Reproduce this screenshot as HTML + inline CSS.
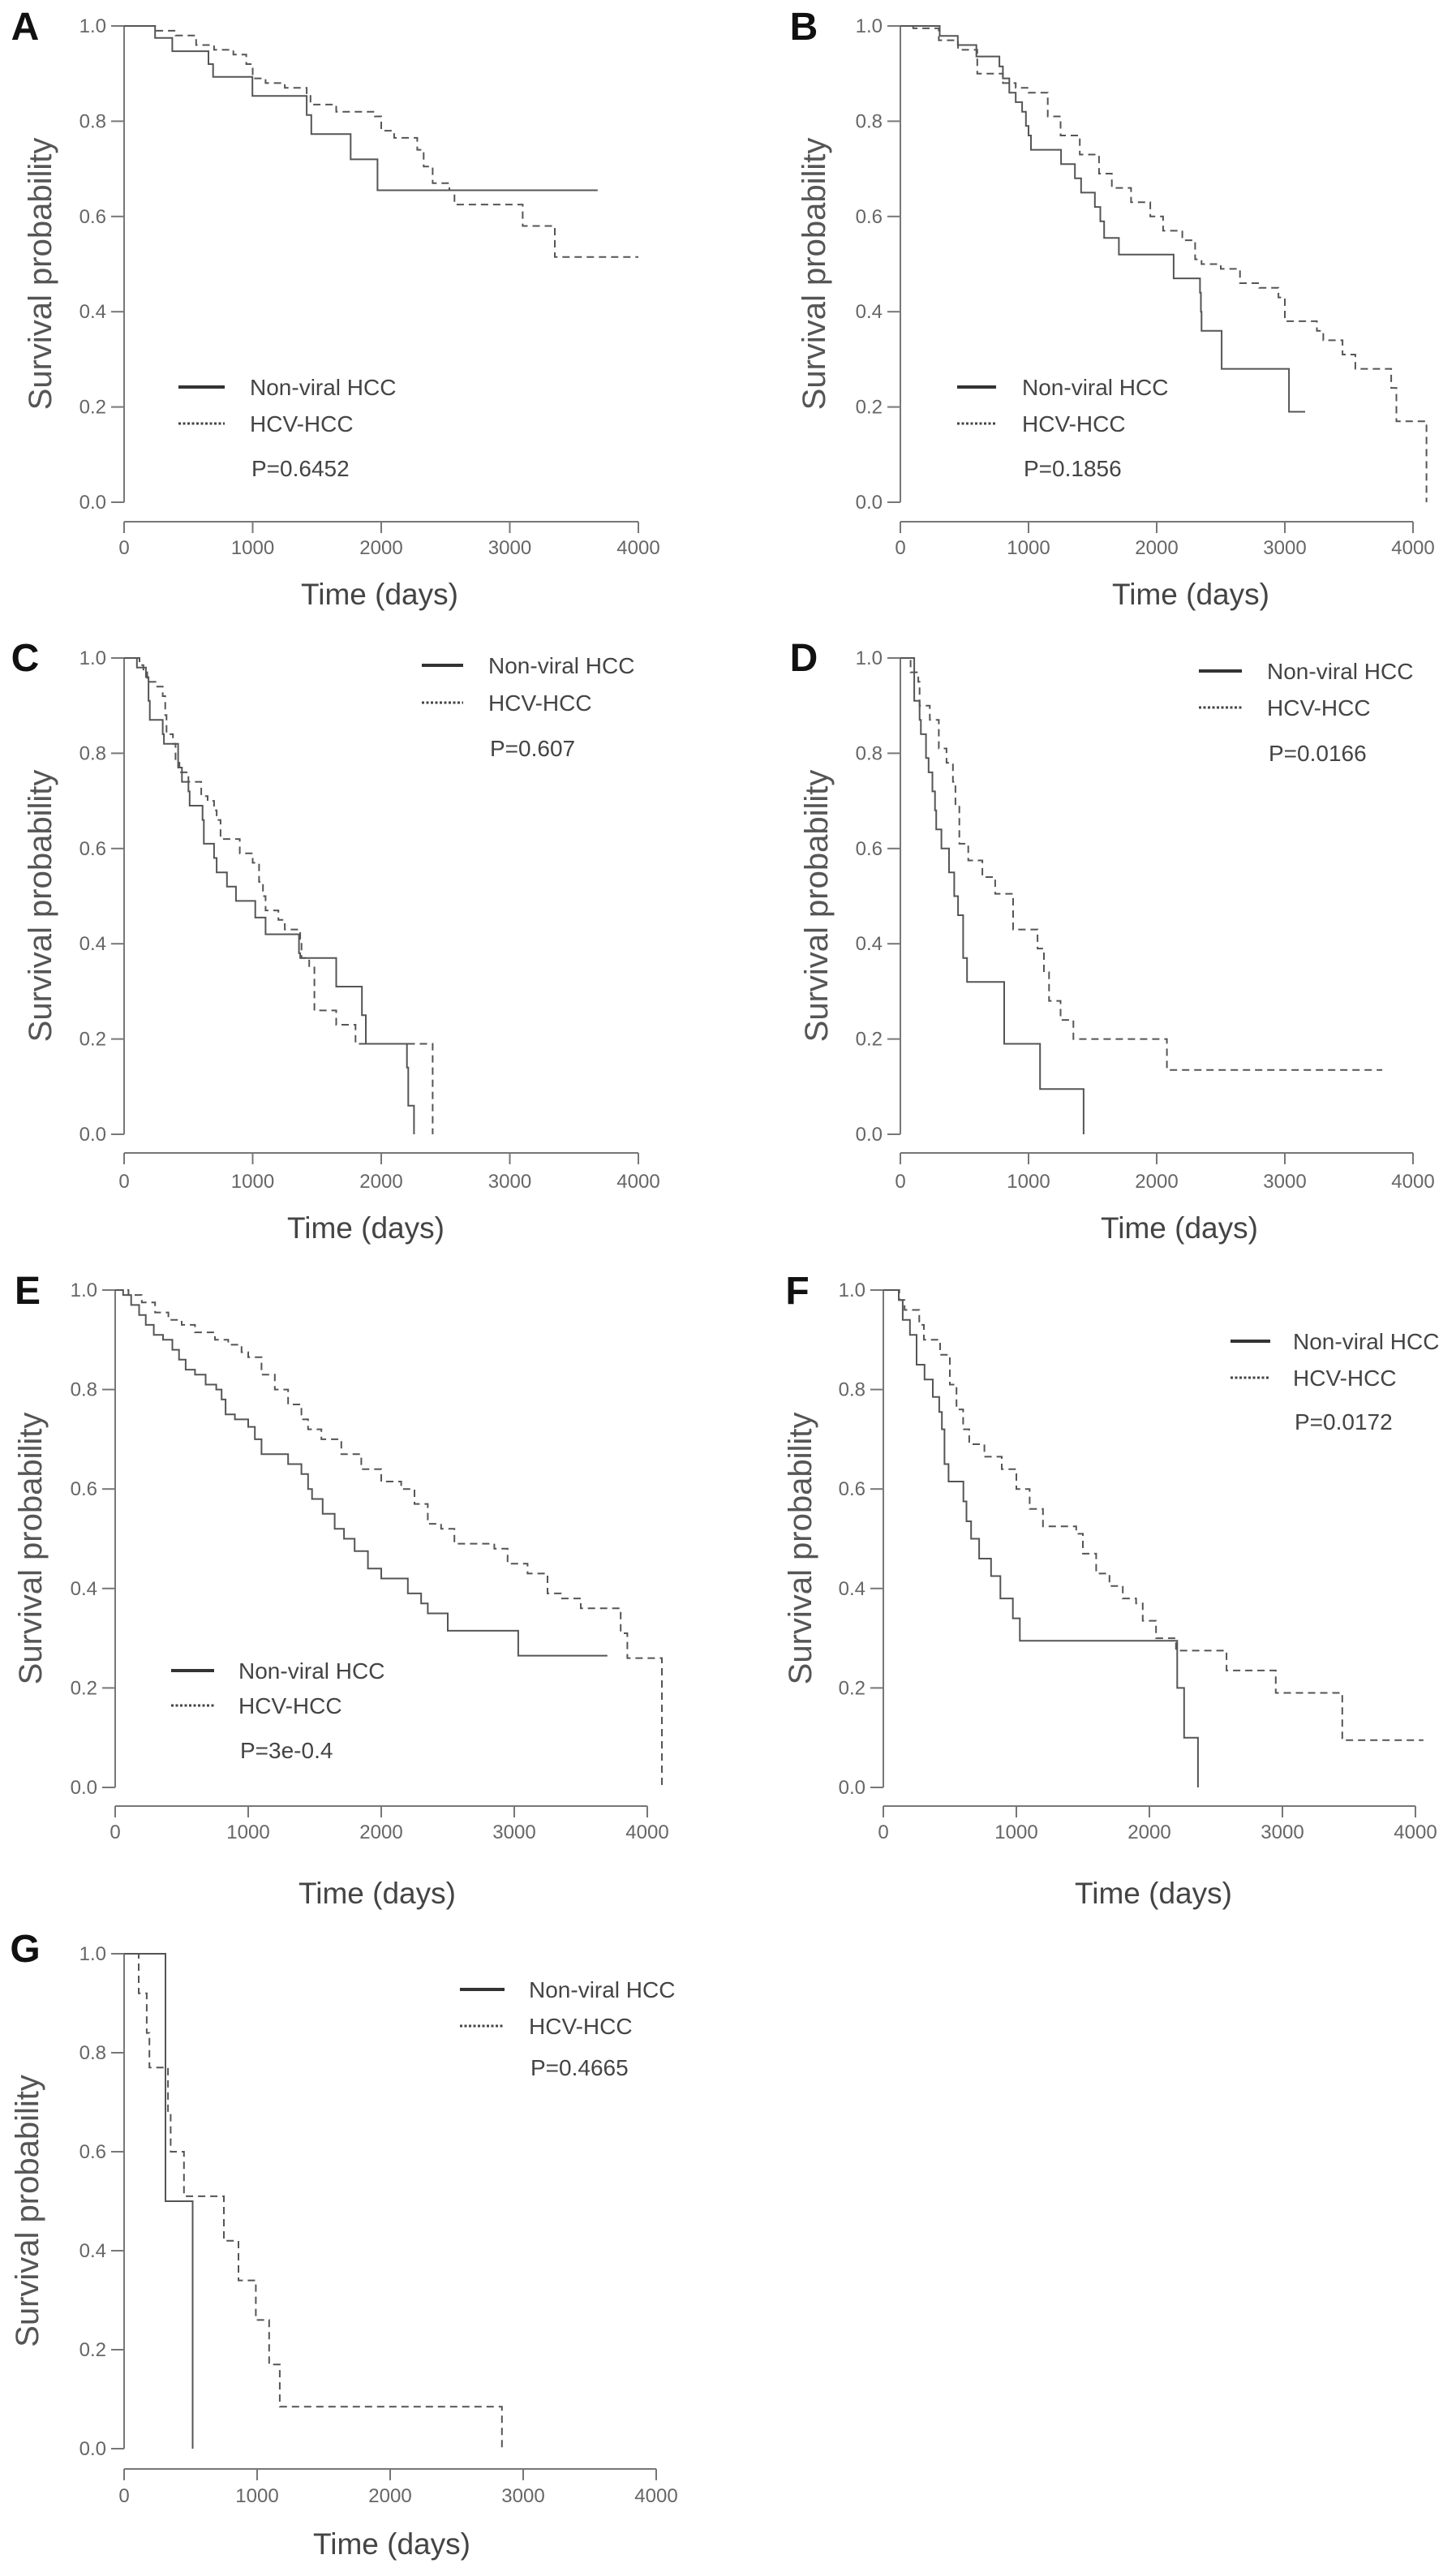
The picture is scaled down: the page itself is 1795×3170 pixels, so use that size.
<!DOCTYPE html>
<html><head><meta charset="utf-8"><style>
html,body{margin:0;padding:0;background:#fff;}
svg{display:block;font-family:"Liberation Sans",Arial,sans-serif;}
</style></head><body>
<svg id="fig" width="1795" height="3170" viewBox="0 0 1795 3170" xmlns="http://www.w3.org/2000/svg"></svg>
<script>
// ---- data (time in days, survival probability) ----
const xTicks=[0,1000,2000,3000,4000];
const yTicks=[0,0.2,0.4,0.6,0.8,1.0];
const yTickLabels=["0.0","0.2","0.4","0.6","0.8","1.0"];
const pValues=["P=0.6452","P=0.1856","P=0.607","P=0.0166","P=3e-0.4","P=0.0172","P=0.4665"];
const seriesNames=["Non-viral HCC","HCV-HCC"];

const aNonT=[241,375,656,692,998,1420,1456,1762,1971];
const aNonS=[0.975,0.947,0.92,0.893,0.853,0.813,0.773,0.72,0.655];
const aNonEnd=3683;
const aHcvT=[241,400,560,700,850,950,1000,1100,1250,1420,1450,1650,1950,2000,2100,2280,2330,2400,2530,2570,3100,3350];
const aHcvS=[0.99,0.98,0.96,0.95,0.94,0.92,0.89,0.88,0.87,0.855,0.835,0.82,0.81,0.78,0.765,0.74,0.705,0.67,0.655,0.625,0.58,0.515];
const aHcvEnd=4000;

const bNonT=[307,448,593,773,800,850,900,950,980,1000,1019,1254,1362,1410,1518,1560,1590,1705,2132,2338,2345,2350,2507,3032];
const bNonS=[0.979,0.96,0.936,0.915,0.89,0.86,0.84,0.82,0.79,0.77,0.74,0.71,0.68,0.65,0.62,0.59,0.555,0.52,0.47,0.44,0.40,0.36,0.28,0.19];
const bNonEnd=3158;
const bHcvT=[100,300,450,600,800,900,1000,1150,1250,1400,1550,1650,1800,1950,2050,2200,2300,2350,2500,2650,2800,2950,3000,3250,3300,3450,3550,3830,3870,4105];
const bHcvS=[0.995,0.97,0.95,0.9,0.88,0.87,0.86,0.81,0.77,0.73,0.69,0.66,0.63,0.6,0.57,0.55,0.51,0.5,0.49,0.46,0.45,0.43,0.38,0.36,0.34,0.31,0.28,0.24,0.17,0.0];
const bHcvEnd=4105;

const cNonT=[100,170,190,200,300,310,420,450,500,510,610,620,700,720,800,870,1020,1100,1360,1370,1650,1850,1880,2200,2210,2255];
const cNonS=[0.98,0.96,0.91,0.87,0.84,0.82,0.77,0.74,0.72,0.69,0.66,0.61,0.58,0.55,0.52,0.49,0.455,0.42,0.38,0.37,0.31,0.25,0.19,0.14,0.06,0.0];
const cNonEnd=2255;
const cHcvT=[120,150,180,250,300,320,330,380,400,430,500,600,650,700,720,750,900,1000,1050,1080,1100,1200,1250,1370,1380,1440,1480,1650,1800,2400];
const cHcvS=[0.985,0.97,0.95,0.94,0.92,0.88,0.84,0.82,0.78,0.76,0.74,0.71,0.7,0.68,0.66,0.62,0.59,0.57,0.53,0.5,0.47,0.45,0.43,0.41,0.37,0.35,0.26,0.23,0.19,0.0];
const cHcvEnd=2400;

const dNonT=[108,150,160,200,220,250,270,280,320,380,420,450,490,520,810,1090,1430];
const dNonS=[0.91,0.87,0.84,0.79,0.76,0.72,0.68,0.64,0.6,0.55,0.5,0.46,0.37,0.32,0.19,0.095,0.0];
const dNonEnd=1430;
const dHcvT=[80,140,150,230,300,360,410,430,460,530,640,740,880,1070,1120,1160,1250,1350,2080];
const dHcvS=[0.97,0.95,0.9,0.87,0.81,0.78,0.74,0.69,0.61,0.575,0.54,0.505,0.43,0.39,0.34,0.28,0.24,0.2,0.135];
const dHcvEnd=3760;

const eNonT=[60,120,180,230,290,360,430,480,530,600,680,760,800,830,900,1000,1050,1100,1300,1400,1450,1480,1560,1650,1720,1800,1900,2000,2200,2300,2350,2500,3030];
const eNonS=[0.99,0.97,0.95,0.93,0.91,0.9,0.88,0.86,0.84,0.83,0.81,0.8,0.78,0.75,0.74,0.725,0.7,0.67,0.65,0.63,0.6,0.58,0.55,0.52,0.5,0.475,0.44,0.42,0.39,0.37,0.35,0.315,0.265];
const eNonEnd=3700;
const eHcvT=[100,200,300,400,500,600,750,850,950,1000,1100,1200,1300,1400,1450,1550,1700,1850,2000,2150,2250,2350,2450,2550,2850,2950,3100,3250,3350,3500,3800,3850,4110];
const eHcvS=[0.99,0.975,0.955,0.94,0.93,0.915,0.9,0.89,0.875,0.865,0.83,0.8,0.77,0.74,0.72,0.7,0.67,0.64,0.615,0.6,0.57,0.53,0.52,0.49,0.48,0.45,0.43,0.39,0.38,0.36,0.31,0.26,0.0];
const eHcvEnd=4110;

const fNonT=[116,146,200,250,310,372,420,440,460,490,602,625,660,720,810,880,974,1026,2209,2261,2365];
const fNonS=[0.98,0.94,0.91,0.85,0.82,0.785,0.755,0.72,0.65,0.615,0.575,0.535,0.5,0.46,0.425,0.38,0.34,0.295,0.2,0.1,0.0];
const fNonEnd=2365;
const fHcvT=[120,160,270,305,427,500,550,600,646,760,890,1000,1100,1200,1450,1500,1600,1700,1800,1900,1950,2050,2200,2580,2950,3450];
const fHcvS=[0.98,0.96,0.93,0.9,0.87,0.81,0.76,0.72,0.69,0.665,0.64,0.6,0.56,0.525,0.51,0.47,0.43,0.405,0.38,0.37,0.335,0.3,0.275,0.235,0.19,0.095];
const fHcvEnd=4060;

const gNonT=[311,515];
const gNonS=[0.5,0.0];
const gNonEnd=515;
const gHcvT=[110,170,190,330,350,450,750,860,990,1090,1170,2840];
const gHcvS=[0.92,0.84,0.77,0.68,0.6,0.51,0.42,0.34,0.26,0.17,0.085,0.0];
const gHcvEnd=2840;

// ---- layout ----
const panels=[
 {id:"a",letter:"A",lx:31,ly:32,x0:153,x4:787,yT:32,yB:619,xa:643,tl:683,tt:745,tx:468,ytx:49,leg:{l1:220,l2:277,tx:308,r:[477,522,577]},non:[aNonT,aNonS,aNonEnd],hcv:[aHcvT,aHcvS,aHcvEnd]},
 {id:"b",letter:"B",lx:991,ly:32,x0:1110,x4:1742,yT:32,yB:619,xa:643,tl:683,tt:745,tx:1468,ytx:1003,leg:{l1:1180,l2:1228,tx:1260,r:[477,522,577]},non:[bNonT,bNonS,bNonEnd],hcv:[bHcvT,bHcvS,bHcvEnd]},
 {id:"c",letter:"C",lx:31,ly:810,x0:153,x4:787,yT:811,yB:1398,xa:1421,tl:1464,tt:1526,tx:451,ytx:49,leg:{l1:520,l2:571,tx:602,r:[820,866,922]},non:[cNonT,cNonS,cNonEnd],hcv:[cHcvT,cHcvS,cHcvEnd]},
 {id:"d",letter:"D",lx:991,ly:810,x0:1110,x4:1742,yT:811,yB:1398,xa:1421,tl:1464,tt:1526,tx:1454,ytx:1006,leg:{l1:1478,l2:1531,tx:1562,r:[827,872,928]},non:[dNonT,dNonS,dNonEnd],hcv:[dHcvT,dHcvS,dHcvEnd]},
 {id:"e",letter:"E",lx:34,ly:1590,x0:142,x4:798,yT:1590,yB:2203,xa:2226,tl:2266,tt:2346,tx:465,ytx:37,leg:{l1:211,l2:264,tx:294,r:[2059,2102,2157]},non:[eNonT,eNonS,eNonEnd],hcv:[eHcvT,eHcvS,eHcvEnd]},
 {id:"f",letter:"F",lx:983,ly:1590,x0:1089,x4:1745,yT:1590,yB:2203,xa:2226,tl:2266,tt:2346,tx:1422,ytx:986,leg:{l1:1517,l2:1566,tx:1594,r:[1653,1698,1752]},non:[fNonT,fNonS,fNonEnd],hcv:[fHcvT,fHcvS,fHcvEnd]},
 {id:"g",letter:"G",lx:31,ly:2401,x0:153,x4:809,yT:2408,yB:3018,xa:3043,tl:3084,tt:3148,tx:483,ytx:33,leg:{l1:567,l2:622,tx:652,r:[2452,2497,2548]},non:[gNonT,gNonS,gNonEnd],hcv:[gHcvT,gHcvS,gHcvEnd]}
];
const NS="http://www.w3.org/2000/svg";
const svg=document.getElementById('fig');
function mk(tag,attrs,parent,text){const e=document.createElementNS(NS,tag);for(const k in attrs)e.setAttribute(k,attrs[k]);if(text!==undefined)e.textContent=text;parent.appendChild(e);return e;}

panels.forEach((p,pi)=>{
  const g=mk('g',{},svg);
  
  
  const xs=t=>p.x0+(p.x4-p.x0)*t/4000;
  const ys=s=>p.yB-(p.yB-p.yT)*s;
  const lt=mk('text',{x:p.lx,y:p.ly+17,'font-size':48,'font-weight':'bold','text-anchor':'middle',fill:'#111'},g,p.letter);
  
  
  // y axis
  const ya=mk('line',{x1:p.x0,y1:ys(1),x2:p.x0,y2:ys(0),stroke:'#777','stroke-width':2},g);
  
  
  yTicks.forEach((v,i)=>{
    mk('line',{x1:p.x0-16,y1:ys(v),x2:p.x0,y2:ys(v),stroke:'#777','stroke-width':2},g);
    const t=mk('text',{x:p.x0-22,y:ys(v)+8,'font-size':24,'text-anchor':'end',fill:'#666'},g,yTickLabels[i]);
    
    
  });
  // x axis
  const xa=mk('line',{x1:xs(0),y1:p.xa,x2:xs(4000),y2:p.xa,stroke:'#777','stroke-width':2},g);
  
  
  xTicks.forEach(v=>{
    mk('line',{x1:xs(v),y1:p.xa,x2:xs(v),y2:p.xa+14,stroke:'#777','stroke-width':2},g);
    const t=mk('text',{x:xs(v),y:p.tl,'font-size':24,'text-anchor':'middle',fill:'#666'},g,String(v));
    
    
  });
  const xt=mk('text',{x:p.tx,y:p.tt,'font-size':37,'text-anchor':'middle',fill:'#444'},g,'Time (days)');
  
  
  const cy=(p.yT+p.yB)/2+12;
  const yt=mk('text',{x:p.ytx+14,y:cy,'font-size':40,'text-anchor':'middle',fill:'#555',transform:'rotate(-90 '+(p.ytx+14)+' '+cy+')'},g,'Survival probability');
  
  
  // curves
  [[p.non,'none','non-viral-curve'],[p.hcv,'9 6','hcv-curve']].forEach(([ser,dash,name])=>{
    const T=ser[0],S=ser[1],end=ser[2];
    let d='M'+xs(0)+' '+ys(1);
    for(let i=0;i<T.length;i++){d+=' H'+xs(T[i]).toFixed(1)+' V'+ys(S[i]).toFixed(1);}
    d+=' H'+xs(end).toFixed(1);
    const path=mk('path',{d:d,fill:'none',stroke:'#555','stroke-width':2,'stroke-dasharray':dash},g);
    
    
  });
  // legend
  const L=p.leg;
  const l1=mk('line',{x1:L.l1,y1:L.r[0],x2:L.l2,y2:L.r[0],stroke:'#333','stroke-width':4},g);
  
  
  const l2=mk('line',{x1:L.l1,y1:L.r[1],x2:L.l2,y2:L.r[1],stroke:'#444','stroke-width':3,'stroke-dasharray':'3 2.5'},g);
  
  
  const t1=mk('text',{x:L.tx,y:L.r[0]+10,'font-size':28,fill:'#444'},g,seriesNames[0]);
  
  
  const t2=mk('text',{x:L.tx,y:L.r[1]+10,'font-size':28,fill:'#444'},g,seriesNames[1]);
  
  
  const t3=mk('text',{x:L.tx+2,y:L.r[2]+10,'font-size':28,fill:'#444'},g,pValues[pi]);
  
  
});
</script>
</body></html>
